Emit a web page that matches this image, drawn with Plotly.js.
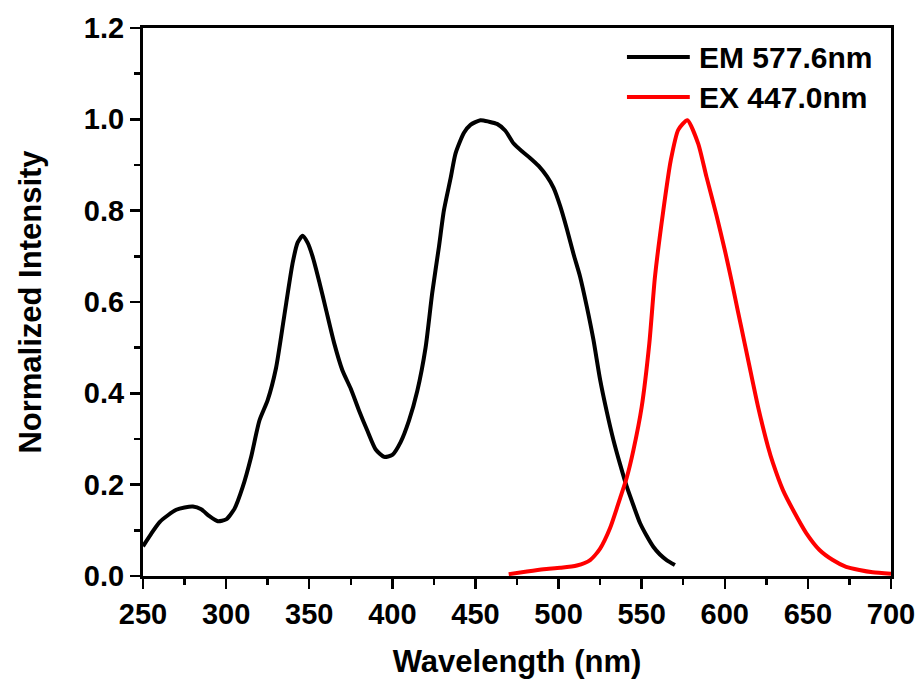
<!DOCTYPE html>
<html>
<head>
<meta charset="utf-8">
<script src="https://cdn.plot.ly/plotly-3.0.1.min.js"></script>
<style>html,body{margin:0;padding:0;background:#fff}#chart{width:920px;height:682px}</style>
</head>
<body>
<div id="chart"></div>
<script>
// EM 577.6nm trace (black)
const emWavelength = [250,255,260,265,270,275,280,285,290,295,300,305,310,315,320,325,330,335,340,343,346,349,352,356,360,365,370,375,380,385,390,395,400,405,410,415,420,424,428,431,435,438,443,447,453,458,463,468,473,478,483,488,493,497,501,505,509,513,517,521,525,529,533,537,541,545,549,553,557,561,565,570];
const emIntensity  = [0.065,0.093,0.118,0.133,0.145,0.150,0.152,0.146,0.131,0.120,0.124,0.147,0.195,0.260,0.340,0.385,0.455,0.570,0.685,0.730,0.745,0.730,0.700,0.645,0.585,0.510,0.450,0.410,0.362,0.318,0.277,0.261,0.265,0.293,0.340,0.405,0.500,0.620,0.720,0.800,0.870,0.925,0.970,0.988,0.998,0.995,0.990,0.975,0.947,0.930,0.915,0.898,0.875,0.850,0.810,0.760,0.705,0.655,0.590,0.517,0.430,0.360,0.298,0.245,0.196,0.155,0.116,0.088,0.064,0.047,0.035,0.024];
// EX 447.0nm trace (red)
const exWavelength = [470,481,491,501,511,519,525,531,537,541,545,550,554.6,558,563,567.5,572,577.5,584,589,595,600,604,608,612,617,620,626,629,635,641,649,657,665,673,681,689,700];
const exIntensity  = [0.004,0.010,0.015,0.018,0.023,0.035,0.060,0.105,0.170,0.215,0.275,0.370,0.509,0.655,0.800,0.910,0.977,0.998,0.947,0.874,0.790,0.714,0.648,0.578,0.509,0.422,0.371,0.283,0.247,0.188,0.145,0.094,0.057,0.035,0.020,0.013,0.008,0.005];
const seriesNames = ["EM 577.6nm","EX 447.0nm"];
const seriesColors = ["#000000","#ff0000"];
const xTicks = [250,300,350,400,450,500,550,600,650,700];
const yTicks = [0.0,0.2,0.4,0.6,0.8,1.0,1.2];

const fontFam = "Arial, 'Liberation Sans', sans-serif";
const traces = [
  {x: emWavelength, y: emIntensity, name: seriesNames[0], mode: "lines", line: {color: seriesColors[0], width: 4, shape: "spline", smoothing: 0.6}},
  {x: exWavelength, y: exIntensity, name: seriesNames[1], mode: "lines", line: {color: seriesColors[1], width: 4, shape: "spline", smoothing: 0.6}}
];
const axisCommon = {
  showgrid: false, zeroline: false, showline: true, linecolor: "#000", linewidth: 3, mirror: true,
  ticks: "outside", ticklen: 10, tickwidth: 2.5, tickcolor: "#000",
  tickfont: {family: fontFam, size: 29, color: "#000", weight: "bold"}
};
// manual legend (line sample + label) in paper coordinates
const legendRows = [0.947, 0.874];
const shapes = seriesNames.map((n, i) => ({type: "line", xref: "paper", yref: "paper", x0: 0.647, x1: 0.731, y0: legendRows[i], y1: legendRows[i], line: {color: seriesColors[i], width: 4}}));
const annotations = seriesNames.map((n, i) => ({xref: "paper", yref: "paper", x: 0.741, y: legendRows[i], xanchor: "left", yanchor: "middle", text: n, showarrow: false, font: {family: fontFam, size: 30, color: "#000", weight: "bold"}}));
const layout = {
  width: 920, height: 682,
  margin: {l: 143, r: 29, t: 28, b: 106},
  paper_bgcolor: "#fff", plot_bgcolor: "#fff",
  showlegend: false,
  shapes: shapes, annotations: annotations,
  xaxis: Object.assign({}, axisCommon, {
    range: [250, 700], tickvals: xTicks, ticktext: xTicks.map(String),
    minor: {dtick: 25, tick0: 250, ticks: "outside", ticklen: 6, tickwidth: 2.5, tickcolor: "#000"},
    title: {text: "Wavelength (nm)", font: {family: fontFam, size: 31, color: "#000", weight: "bold"}, standoff: 22}
  }),
  yaxis: Object.assign({}, axisCommon, {
    range: [0, 1.2], tickvals: yTicks, ticktext: yTicks.map(v => v.toFixed(1)),
    minor: {dtick: 0.1, tick0: 0, ticks: "outside", ticklen: 6, tickwidth: 2.5, tickcolor: "#000"},
    title: {text: "Normalized Intensity", font: {family: fontFam, size: 31, color: "#000", weight: "bold"}, standoff: 34}
  })
};
Plotly.newPlot("chart", traces, layout, {displayModeBar: false, staticPlot: true});
</script>
</body>
</html>
